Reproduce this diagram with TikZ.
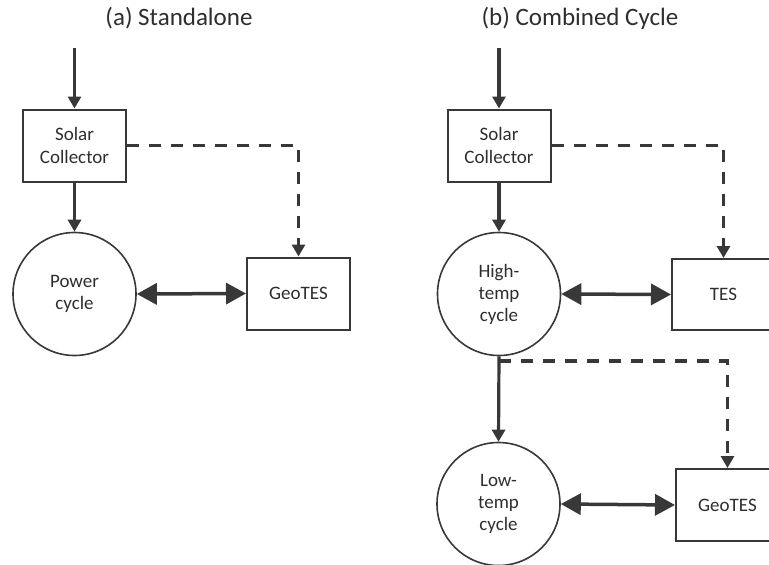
\documentclass[tikz,border=0pt]{standalone}
\usepackage{fontspec}
\setmainfont{Carlito}
\usetikzlibrary{arrows.meta}
\definecolor{ink}{HTML}{383838}
\definecolor{txt}{HTML}{2E2E2E}
\begin{document}
\begin{tikzpicture}[x=1pt,y=-1pt,
  every node/.style={text=txt},
  title/.style={font=\fontsize{25}{30}\selectfont},
  blk/.style={draw=ink,line width=2pt,minimum width=103pt,minimum height=72pt,inner sep=0pt,
    align=center,font=\fontsize{19}{22.5}\selectfont},
  cyc/.style={draw=ink,line width=1.6pt,circle,minimum size=123pt,inner sep=0pt,
    align=center,font=\fontsize{19}{22}\selectfont},
  flow/.style={draw=ink,line width=3.2pt,-{Triangle[length=12pt,width=13pt]}},
  aux/.style={draw=ink,line width=3.2pt,dash pattern=on 12pt off 10pt,-{Triangle[length=12pt,width=13pt]}},
  swap/.style={draw=ink,line width=3.5pt,{Triangle[length=20pt,width=21pt]}-{Triangle[length=20pt,width=21pt]}}
]
\clip (0,0) rectangle (769,565);
\useasboundingbox (0,0) rectangle (769,565);
% (a)
\node[title] (ta) at (179,18) {(a) Standalone};
\coordinate (ina) at (74.5,48);
\node[blk] (sca) at (74.5,145.5) {Solar\\Collector};
\node[cyc] (pca) at (74.5,294) {Power\\cycle};
\node[blk] (gea) at (298.5,293.5) {GeoTES};
\draw[flow] (ina) -- (sca.north);
\draw[flow] (sca.south) -- (pca.north);
\draw[aux] (sca.east) -| (gea.north);
\draw[swap] (pca.east) -- (gea.west);
% (b)
\node[title] (tb) at (580,18) {(b) Combined Cycle};
\coordinate (inb) at (499,48);
\node[blk] (scb) at (499,145.5) {Solar\\Collector};
\node[cyc] (htb) at (499,294) {High-\\temp\\cycle};
\node[blk,minimum height=71pt] (tesb) at (723.5,294.5) {TES};
\node[cyc] (ltb) at (498.5,504) {Low-\\temp\\cycle};
\node[blk] (geb) at (727.5,505) {GeoTES};
\coordinate (split) at (499,361);
\draw[flow] (inb) -- (scb.north);
\draw[flow] (scb.south) -- (htb.north);
\draw[aux] (scb.east) -| (tesb.north);
\draw[swap] (htb.east) -- (tesb.west);
\draw[flow] (htb.south) -- (ltb.north);
\draw[aux] (split) -| (geb.north);
\draw[swap] (ltb.east) -- (geb.west);
\end{tikzpicture}
\end{document}
